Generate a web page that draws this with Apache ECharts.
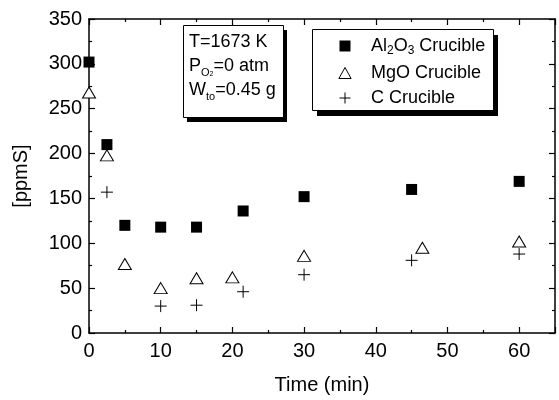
<!DOCTYPE html>
<html>
<head>
<meta charset="utf-8">
<script src="https://cdn.jsdelivr.net/npm/echarts@6/dist/echarts.min.js"></script>
<style>
html,body{margin:0;padding:0;background:#fff;}
#chart{width:559px;height:400px;}
</style>
</head>
<body>
<div id="chart"></div>
<script>
// Data
var timeAl  = [0, 2.5, 5, 10, 15, 21.5, 30, 45, 60];
var valAl   = [302, 210, 120, 118, 118, 136, 152, 160, 169];
var timeMgO = [0, 2.5, 5, 10, 15, 20, 30, 46.5, 60];
var valMgO  = [268, 198, 77, 50, 61, 62, 86, 95, 102];
var timeC   = [2.5, 10, 15, 21.5, 30, 45, 60];
var valC    = [157, 30, 31, 46, 65, 81, 88];
var seriesNames = ['Al2O3 Crucible', 'MgO Crucible', 'C Crucible'];
var xTicks = [0, 10, 20, 30, 40, 50, 60];
var yTicks = [0, 50, 100, 150, 200, 250, 300, 350];

function pairs(xs, ys) { return xs.map(function (x, i) { return [x, ys[i]]; }); }

var FONT = '"Liberation Sans", Arial, sans-serif';
var plusPath = 'path://M0,5L10,5M5,0L5,10';
var triPath = 'path://M5,0L10,9L0,9Z';
var sqPath = 'path://M0,0L10,0L10,10L0,10Z';

var chart = echarts.init(document.getElementById('chart'), null, {renderer: 'canvas'});

function axisBase(pos, show) {
  return {
    position: pos,
    axisLine: {show: true, onZero: false, lineStyle: {color: '#000', width: 1.5}},
    axisTick: {show: true, inside: true, length: 6, lineStyle: {color: '#000', width: 1.2}},
    minorTick: {show: true, splitNumber: 2, length: 3, lineStyle: {color: '#000', width: 1.2}},
    splitLine: {show: false},
    minorSplitLine: {show: false},
    axisLabel: {show: show, color: '#000', fontFamily: FONT, fontSize: 20}
  };
}

var xBottom = axisBase('bottom', true);
Object.assign(xBottom, {type: 'value', min: 0, max: 65, interval: 10,
  name: 'Time (min)', nameLocation: 'middle', nameGap: 42,
  nameTextStyle: {color: '#000', fontFamily: FONT, fontSize: 20}});
xBottom.axisLabel.margin = 8;
xBottom.axisLabel.formatter = function (v) { return xTicks.indexOf(v) >= 0 ? String(v) : ''; };
var xTop = axisBase('top', false);
Object.assign(xTop, {type: 'value', min: 0, max: 65, interval: 10});

var yLeft = axisBase('left', true);
Object.assign(yLeft, {type: 'value', min: 0, max: 350, interval: 50,
  name: '[ppmS]', nameLocation: 'middle', nameGap: 58,
  nameTextStyle: {color: '#000', fontFamily: FONT, fontSize: 20}});
yLeft.axisLabel.margin = 7;
yLeft.axisLabel.formatter = function (v) { return yTicks.indexOf(v) >= 0 ? String(v) : ''; };
var yRight = axisBase('right', false);
Object.assign(yRight, {type: 'value', min: 0, max: 350, interval: 50});

var richLegend = {
  n: {fontFamily: FONT, fontSize: 18, color: '#000', lineHeight: 22},
  s: {fontFamily: FONT, fontSize: 12, color: '#000', lineHeight: 12, verticalAlign: 'bottom'}
};

function shadowBox(x, y, w, h, dx, dy) {
  return [
    {type: 'rect', left: x + dx, top: y + dy, z: 10, shape: {width: w, height: h}, style: {fill: '#000'}},
    {type: 'rect', left: x, top: y, z: 11, shape: {width: w, height: h}, style: {fill: '#fff', stroke: '#000', lineWidth: 1}}
  ];
}

var option = {
  animation: false,
  backgroundColor: '#fff',
  grid: {left: 89, right: 4, top: 19, bottom: 56, containLabel: false},
  xAxis: [xBottom, xTop],
  yAxis: [yLeft, yRight],
  legend: {
    orient: 'vertical',
    left: 312, top: 29, z: 20,
    padding: [8, 11, 0, 25],
    itemGap: 7,
    itemWidth: 42, itemHeight: 11,
    selectedMode: false,
    data: [
      {name: seriesNames[0], icon: sqPath, itemStyle: {color: '#000', borderWidth: 0}},
      {name: seriesNames[1], icon: triPath, itemStyle: {color: '#fff', borderColor: '#000', borderWidth: 1}},
      {name: seriesNames[2], icon: plusPath, itemStyle: {color: 'none', borderColor: '#000', borderWidth: 1}}
    ],
    textStyle: {rich: richLegend},
    formatter: function (name) {
      if (name === seriesNames[0]) return '{n|Al}{s|2}{n|O}{s|3}{n| Crucible}';
      return '{n|' + name + '}';
    }
  },
  graphic: shadowBox(183, 25, 100, 92, 4, 5).concat(shadowBox(312, 29, 181, 81, 5, 6)).concat([
    {type: 'text', left: 189, top: 33, z: 12, style: {
      text: '{n|T=1673 K}\n{n|P}{s|O}{ss|2}{n|=0 atm}\n{n|W}{s|to}{n|=0.45 g}',
      rich: {
        n: {fontFamily: FONT, fontSize: 18, fill: '#000', lineHeight: 24},
        s: {fontFamily: FONT, fontSize: 11, fill: '#000', lineHeight: 11, verticalAlign: 'bottom'},
        ss: {fontFamily: FONT, fontSize: 7, fill: '#000', lineHeight: 5, verticalAlign: 'bottom'}
      }
    }}
  ]),
  series: [
    {name: seriesNames[0], type: 'scatter', xAxisIndex: 0, yAxisIndex: 0, clip: false,
     symbol: 'rect', symbolSize: 11, itemStyle: {color: '#000', opacity: 1}, data: pairs(timeAl, valAl)},
    {name: seriesNames[1], type: 'scatter', xAxisIndex: 0, yAxisIndex: 0, clip: false,
     symbol: 'triangle', symbolSize: [13, 11], itemStyle: {color: '#fff', borderColor: '#000', borderWidth: 1, opacity: 1},
     data: pairs(timeMgO, valMgO)},
    {name: seriesNames[2], type: 'scatter', xAxisIndex: 0, yAxisIndex: 0, clip: false,
     symbol: plusPath, symbolSize: 12, itemStyle: {color: 'none', borderColor: '#000', borderWidth: 1, opacity: 1},
     data: pairs(timeC, valC)}
  ]
};
chart.setOption(option);
</script>
</body>
</html>
